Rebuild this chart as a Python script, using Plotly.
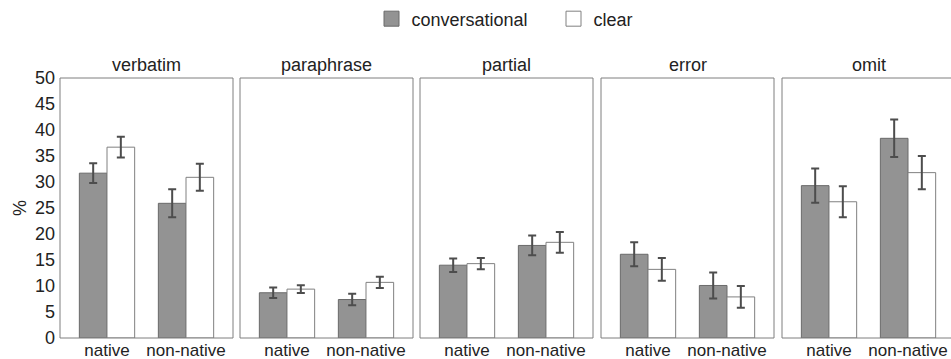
import plotly.graph_objects as go

panels = ["verbatim", "paraphrase", "partial", "error", "omit"]
groups = ["native", "non-native"]
series_names = ["conversational", "clear"]

conv_vals = [[31.7, 25.9], [8.7, 7.4], [14.0, 17.8], [16.1, 10.1], [29.3, 38.4]]
conv_err = [[1.9, 2.7], [1.0, 1.1], [1.3, 1.9], [2.3, 2.5], [3.3, 3.6]]
clear_vals = [[36.7, 30.9], [9.4, 10.7], [14.3, 18.4], [13.2, 7.9], [26.2, 31.8]]
clear_err = [[2.0, 2.6], [0.75, 1.1], [1.1, 2.0], [2.2, 2.1], [3.0, 3.2]]

y_ticks = [0, 5, 10, 15, 20, 25, 30, 35, 40, 45, 50]

W, H = 951, 359
ML, MR, MT, MB = 60, 0, 78, 21
plot_w = W - ML - MR
starts = [60, 240, 420, 601, 782]
pw = 173
px_per_unit = 79.0
x_start = -0.595

CONV_FILL, CONV_LINE = "#939393", "#6a6a6a"
CLEAR_FILL, CLEAR_LINE = "#ffffff", "#808080"
FONT = "Liberation Sans, Arial, sans-serif"
fig = go.Figure()

for i, p in enumerate(panels):
    xa = "x" if i == 0 else f"x{i+1}"
    ya = "y" if i == 0 else f"y{i+1}"
    fig.add_trace(go.Bar(
        x=groups, y=conv_vals[i], name=series_names[0], showlegend=False,
        marker=dict(color=CONV_FILL, line=dict(color=CONV_LINE, width=1)),
        error_y=dict(type="data", array=conv_err[i], color="#4d4d4d", thickness=2, width=4),
        xaxis=xa, yaxis=ya))
    fig.add_trace(go.Bar(
        x=groups, y=clear_vals[i], name=series_names[1], showlegend=False,
        marker=dict(color=CLEAR_FILL, line=dict(color=CLEAR_LINE, width=1)),
        error_y=dict(type="data", array=clear_err[i], color="#4d4d4d", thickness=2, width=4),
        xaxis=xa, yaxis=ya))

# legend-only entries (square swatches)
for name, fill, line in [(series_names[0], CONV_FILL, CONV_LINE), (series_names[1], CLEAR_FILL, CLEAR_LINE)]:
    fig.add_trace(go.Scatter(x=[None], y=[None], mode="markers", name=name, showlegend=True,
                             marker=dict(symbol="square", size=15, color=fill,
                                         line=dict(color=line, width=1)),
                             xaxis="x", yaxis="y"))

layout = dict(
    width=W, height=H,
    margin=dict(l=ML, r=MR, t=MT, b=MB, autoexpand=False),
    paper_bgcolor="white", plot_bgcolor="white",
    font=dict(family=FONT, size=18, color="#222222"),
    barmode="group", bargap=0.30, bargroupgap=0.0,
    showlegend=True,
    legend=dict(orientation="h", x=0.5 + 48 / plot_w, xanchor="center", y=1.227, yanchor="middle",
                font=dict(size=18), itemsizing="trace", entrywidth=137, traceorder="normal"),
)
shapes = []
annotations = []
for i, p in enumerate(panels):
    s = starts[i]
    e = min(s + pw, W)
    d0 = (s - ML) / plot_w
    d1 = (e - ML) / plot_w
    xkey = "xaxis" if i == 0 else f"xaxis{i+1}"
    ykey = "yaxis" if i == 0 else f"yaxis{i+1}"
    rng_w = (e - s) / px_per_unit
    layout[xkey] = dict(domain=[d0, d1], anchor="y" if i == 0 else f"y{i+1}",
                        range=[x_start, x_start + rng_w], showline=False,
                        showgrid=False, zeroline=False, ticks="", type="category",
                        tickfont=dict(size=17, color="#222222"), fixedrange=True)
    yd = dict(domain=[0, 1], anchor="x" if i == 0 else f"x{i+1}", range=[0, 50],
              showgrid=False, zeroline=False, showline=False, ticks="",
              tickvals=y_ticks, fixedrange=True)
    if i == 0:
        yd.update(showticklabels=True, tickfont=dict(size=18, color="#222222"),
                  title=dict(text="%", font=dict(size=18), standoff=3), ticklabelstandoff=4)
    else:
        yd.update(showticklabels=False, matches="y")
    layout[ykey] = yd
    xref = "x domain" if i == 0 else f"x{i+1} domain"
    yref = "y domain" if i == 0 else f"y{i+1} domain"
    shapes.append(dict(type="rect", xref=xref, yref=yref, x0=0,
                       x1=(pw / (e - s)), y0=0, y1=1,
                       line=dict(color="#7f7f7f", width=1), layer="above"))
    annotations.append(dict(text=p, xref="paper", yref="paper",
                            x=(s + pw / 2 - ML) / plot_w, y=1, yanchor="bottom",
                            xanchor="center", yshift=1, showarrow=False,
                            font=dict(size=18, color="#222222")))
layout["shapes"] = shapes
layout["annotations"] = annotations
fig.update_layout(**layout)
fig.write_html("out.html", config={"displayModeBar": False},
               post_script="document.body.style.margin='0';")
